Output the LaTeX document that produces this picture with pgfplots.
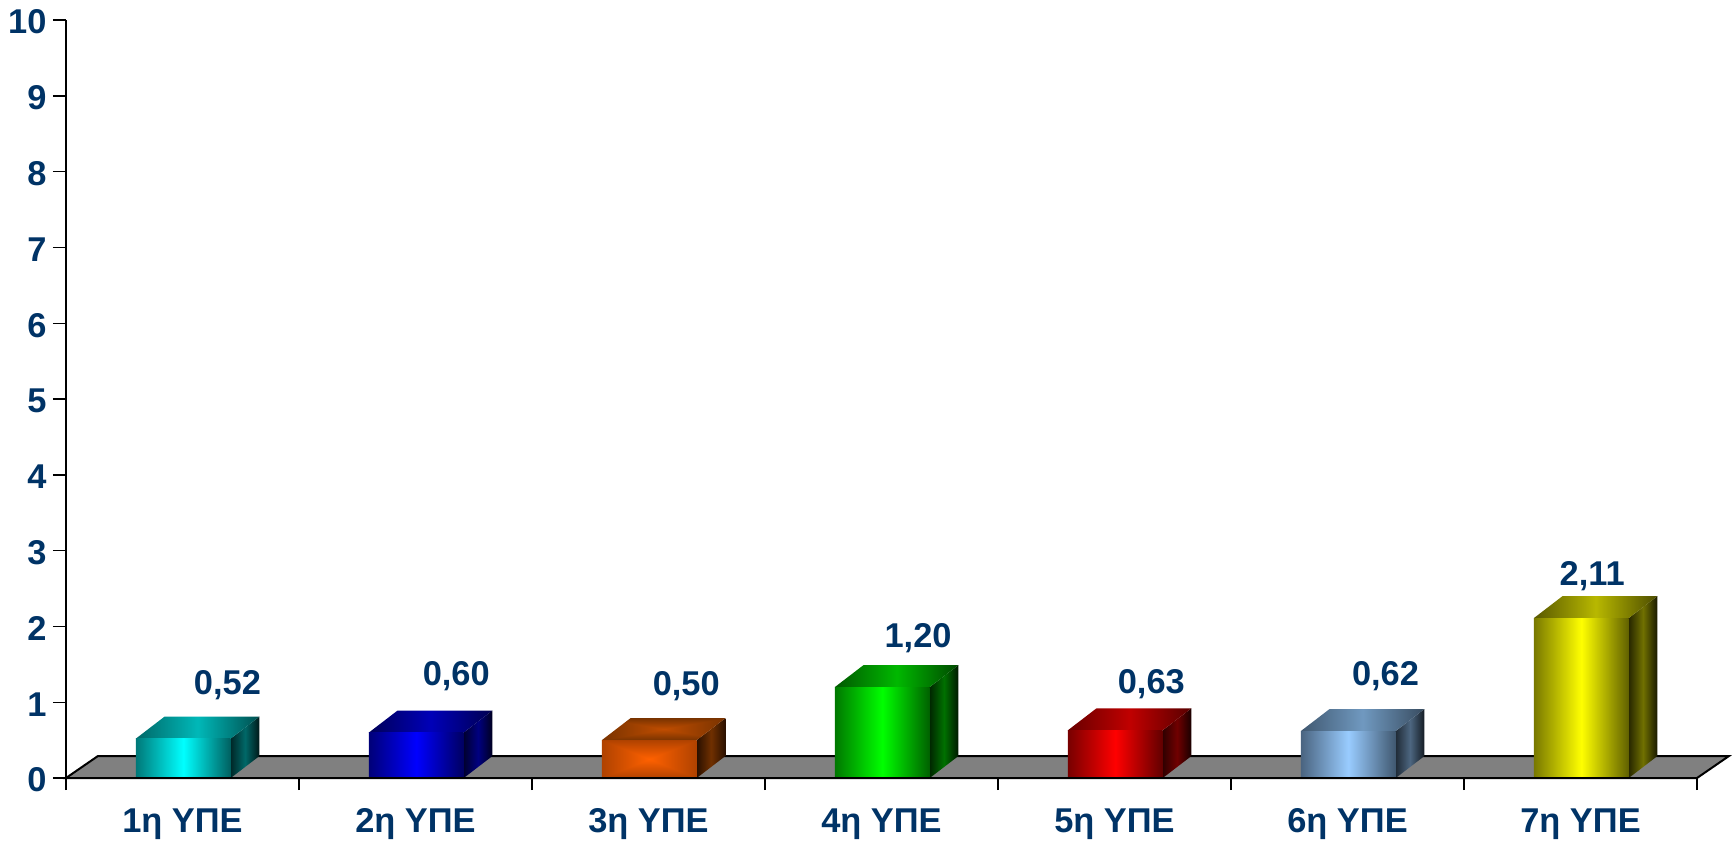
\documentclass[border=0pt]{standalone}
\usepackage{fontspec}
\setmainfont{Liberation Sans}
\usepackage{pgfplots}
\pgfplotsset{compat=1.18}
\definecolor{navy}{HTML}{003366}

% box shadings for the orange bar
\pgfdeclarefunctionalshading{boxfront}{\pgfpoint{-50bp}{-50bp}}{\pgfpoint{50bp}{50bp}}{}{
  abs exch abs 2 copy gt {pop} {exch pop} ifelse 50 div
  dup 0.62 mul 1 exch sub exch 0.24 mul 0.38 exch sub 0}
\pgfdeclarefunctionalshading{boxtop}{\pgfpoint{-50bp}{-50bp}}{\pgfpoint{50bp}{50bp}}{}{
  abs exch abs 2 copy gt {pop} {exch pop} ifelse 50 div
  dup 0.55 mul 0.75 exch sub exch 0.2 mul 0.3 exch sub 0}

\tikzset{
  shade3/.style n args={3}{/utils/exec={\definecolor{sa}{HTML}{#1}\definecolor{sb}{HTML}{#2}\definecolor{sc}{HTML}{#3}},
    draw=none,left color=sa,right color=sc,middle color=sb},
}
\newcommand{\lblfont}{\fontsize{17.2}{19}\selectfont\bfseries}

\begin{document}
\begin{tikzpicture}
\useasboundingbox (0,0) rectangle (866pt,421.5pt);
\begin{axis}[
  at={(33pt,32.5pt)}, anchor=south west,
  scale only axis,
  width=815.5pt, height=379pt,
  xmin=0, xmax=7, ymin=0, ymax=10,
  axis lines=left,
  axis line style={-, line width=1pt, black},
  clip=false,
  axis on top,
  xtick={0,1,2,3,4,5,6,7},
  x tick label as interval,
  xticklabels={1η ΥΠΕ,2η ΥΠΕ,3η ΥΠΕ,4η ΥΠΕ,5η ΥΠΕ,6η ΥΠΕ,7η ΥΠΕ},
  ytick={0,1,2,3,4,5,6,7,8,9,10},
  tick align=outside,
  tick style={black, line width=0.7pt},
  xtick style={/pgfplots/major tick length=6pt},
  ytick style={/pgfplots/major tick length=6.5pt},
  tick label style={font=\lblfont, text=navy},
  xticklabel style={yshift=-7.5pt},
  yticklabel style={xshift=-2pt, yshift=-1pt},
  /pgf/number format/assume math mode=true,
]
% floor
\addplot[draw=black, line width=1pt, fill=black!50] coordinates {(0,0) (7,0) (7.137,0.29) (0.137,0.29)} -- cycle;

% 1
\addplot[shade3={002828}{006868}{001818}] coordinates {(0.707,0) (0.830,0.29) (0.830,0.81) (0.707,0.52)} -- cycle;
\addplot[shade3={006868}{00B8B8}{004F4F}] coordinates {(0.300,0.52) (0.707,0.52) (0.830,0.81) (0.423,0.81)} -- cycle;
\addplot[ybar, bar width=47.4pt, bar shift=0pt, shade3={007878}{00FFFF}{005F5F}] coordinates {(0.5035,0.52)};
% 2
\addplot[shade3={000030}{000080}{000020}] coordinates {(1.707,0) (1.830,0.29) (1.830,0.89) (1.707,0.60)} -- cycle;
\addplot[shade3={000058}{0000B8}{000050}] coordinates {(1.300,0.60) (1.707,0.60) (1.830,0.89) (1.423,0.89)} -- cycle;
\addplot[ybar, bar width=47.4pt, bar shift=0pt, shade3={000078}{0000FF}{000060}] coordinates {(1.5035,0.60)};
% 3
\addplot[shade3={2A1000}{703000}{2A1000}] coordinates {(2.707,0) (2.830,0.29) (2.830,0.79) (2.707,0.50)} -- cycle;
\addplot[draw=none, shading=boxtop] coordinates {(2.300,0.50) (2.707,0.50) (2.830,0.79) (2.423,0.79)} -- cycle;
\addplot[ybar, bar width=47.4pt, bar shift=0pt, draw=none, shading=boxfront] coordinates {(2.5035,0.50)};
% 4
\addplot[shade3={002800}{007000}{001800}] coordinates {(3.707,0) (3.830,0.29) (3.830,1.49) (3.707,1.20)} -- cycle;
\addplot[shade3={005800}{00B800}{004800}] coordinates {(3.300,1.20) (3.707,1.20) (3.830,1.49) (3.423,1.49)} -- cycle;
\addplot[ybar, bar width=47.4pt, bar shift=0pt, shade3={007800}{00FF00}{006000}] coordinates {(3.5035,1.20)};
% 5
\addplot[shade3={300000}{700000}{180000}] coordinates {(4.707,0) (4.830,0.29) (4.830,0.92) (4.707,0.63)} -- cycle;
\addplot[shade3={680000}{C00000}{580000}] coordinates {(4.300,0.63) (4.707,0.63) (4.830,0.92) (4.423,0.92)} -- cycle;
\addplot[ybar, bar width=47.4pt, bar shift=0pt, shade3={780000}{FF0000}{600000}] coordinates {(4.5035,0.63)};
% 6
\addplot[shade3={202C38}{4D6680}{141C24}] coordinates {(5.707,0) (5.830,0.29) (5.830,0.91) (5.707,0.62)} -- cycle;
\addplot[shade3={405870}{7099C0}{384C60}] coordinates {(5.300,0.62) (5.707,0.62) (5.830,0.91) (5.423,0.91)} -- cycle;
\addplot[ybar, bar width=47.4pt, bar shift=0pt, shade3={4A6480}{99CCFF}{405870}] coordinates {(5.5035,0.62)};
% 7
\addplot[shade3={282800}{707000}{181800}] coordinates {(6.707,0) (6.830,0.29) (6.830,2.40) (6.707,2.11)} -- cycle;
\addplot[shade3={585800}{B8B800}{4C4C00}] coordinates {(6.300,2.11) (6.707,2.11) (6.830,2.40) (6.423,2.40)} -- cycle;
\addplot[ybar, bar width=47.4pt, bar shift=0pt, shade3={787800}{FFFF00}{606000}] coordinates {(6.5035,2.11)};

% value labels, placed where the reference has them
\addplot[draw=none, point meta=explicit,
  nodes near coords={\pgfmathprintnumber[fixed,fixed zerofill,precision=2,use comma,assume math mode=true]{\pgfplotspointmeta}},
  nodes near coords style={anchor=center, font=\lblfont, text=navy, inner sep=0pt},
] coordinates {
  (0.693,1.224) [0.52]
  (1.675,1.340) [0.60]
  (2.662,1.209) [0.50]
  (3.657,1.850) [1.20]
  (4.658,1.238) [0.63]
  (5.663,1.340) [0.62]
  (6.550,2.667) [2.11]
};
\end{axis}
\end{tikzpicture}
\end{document}
